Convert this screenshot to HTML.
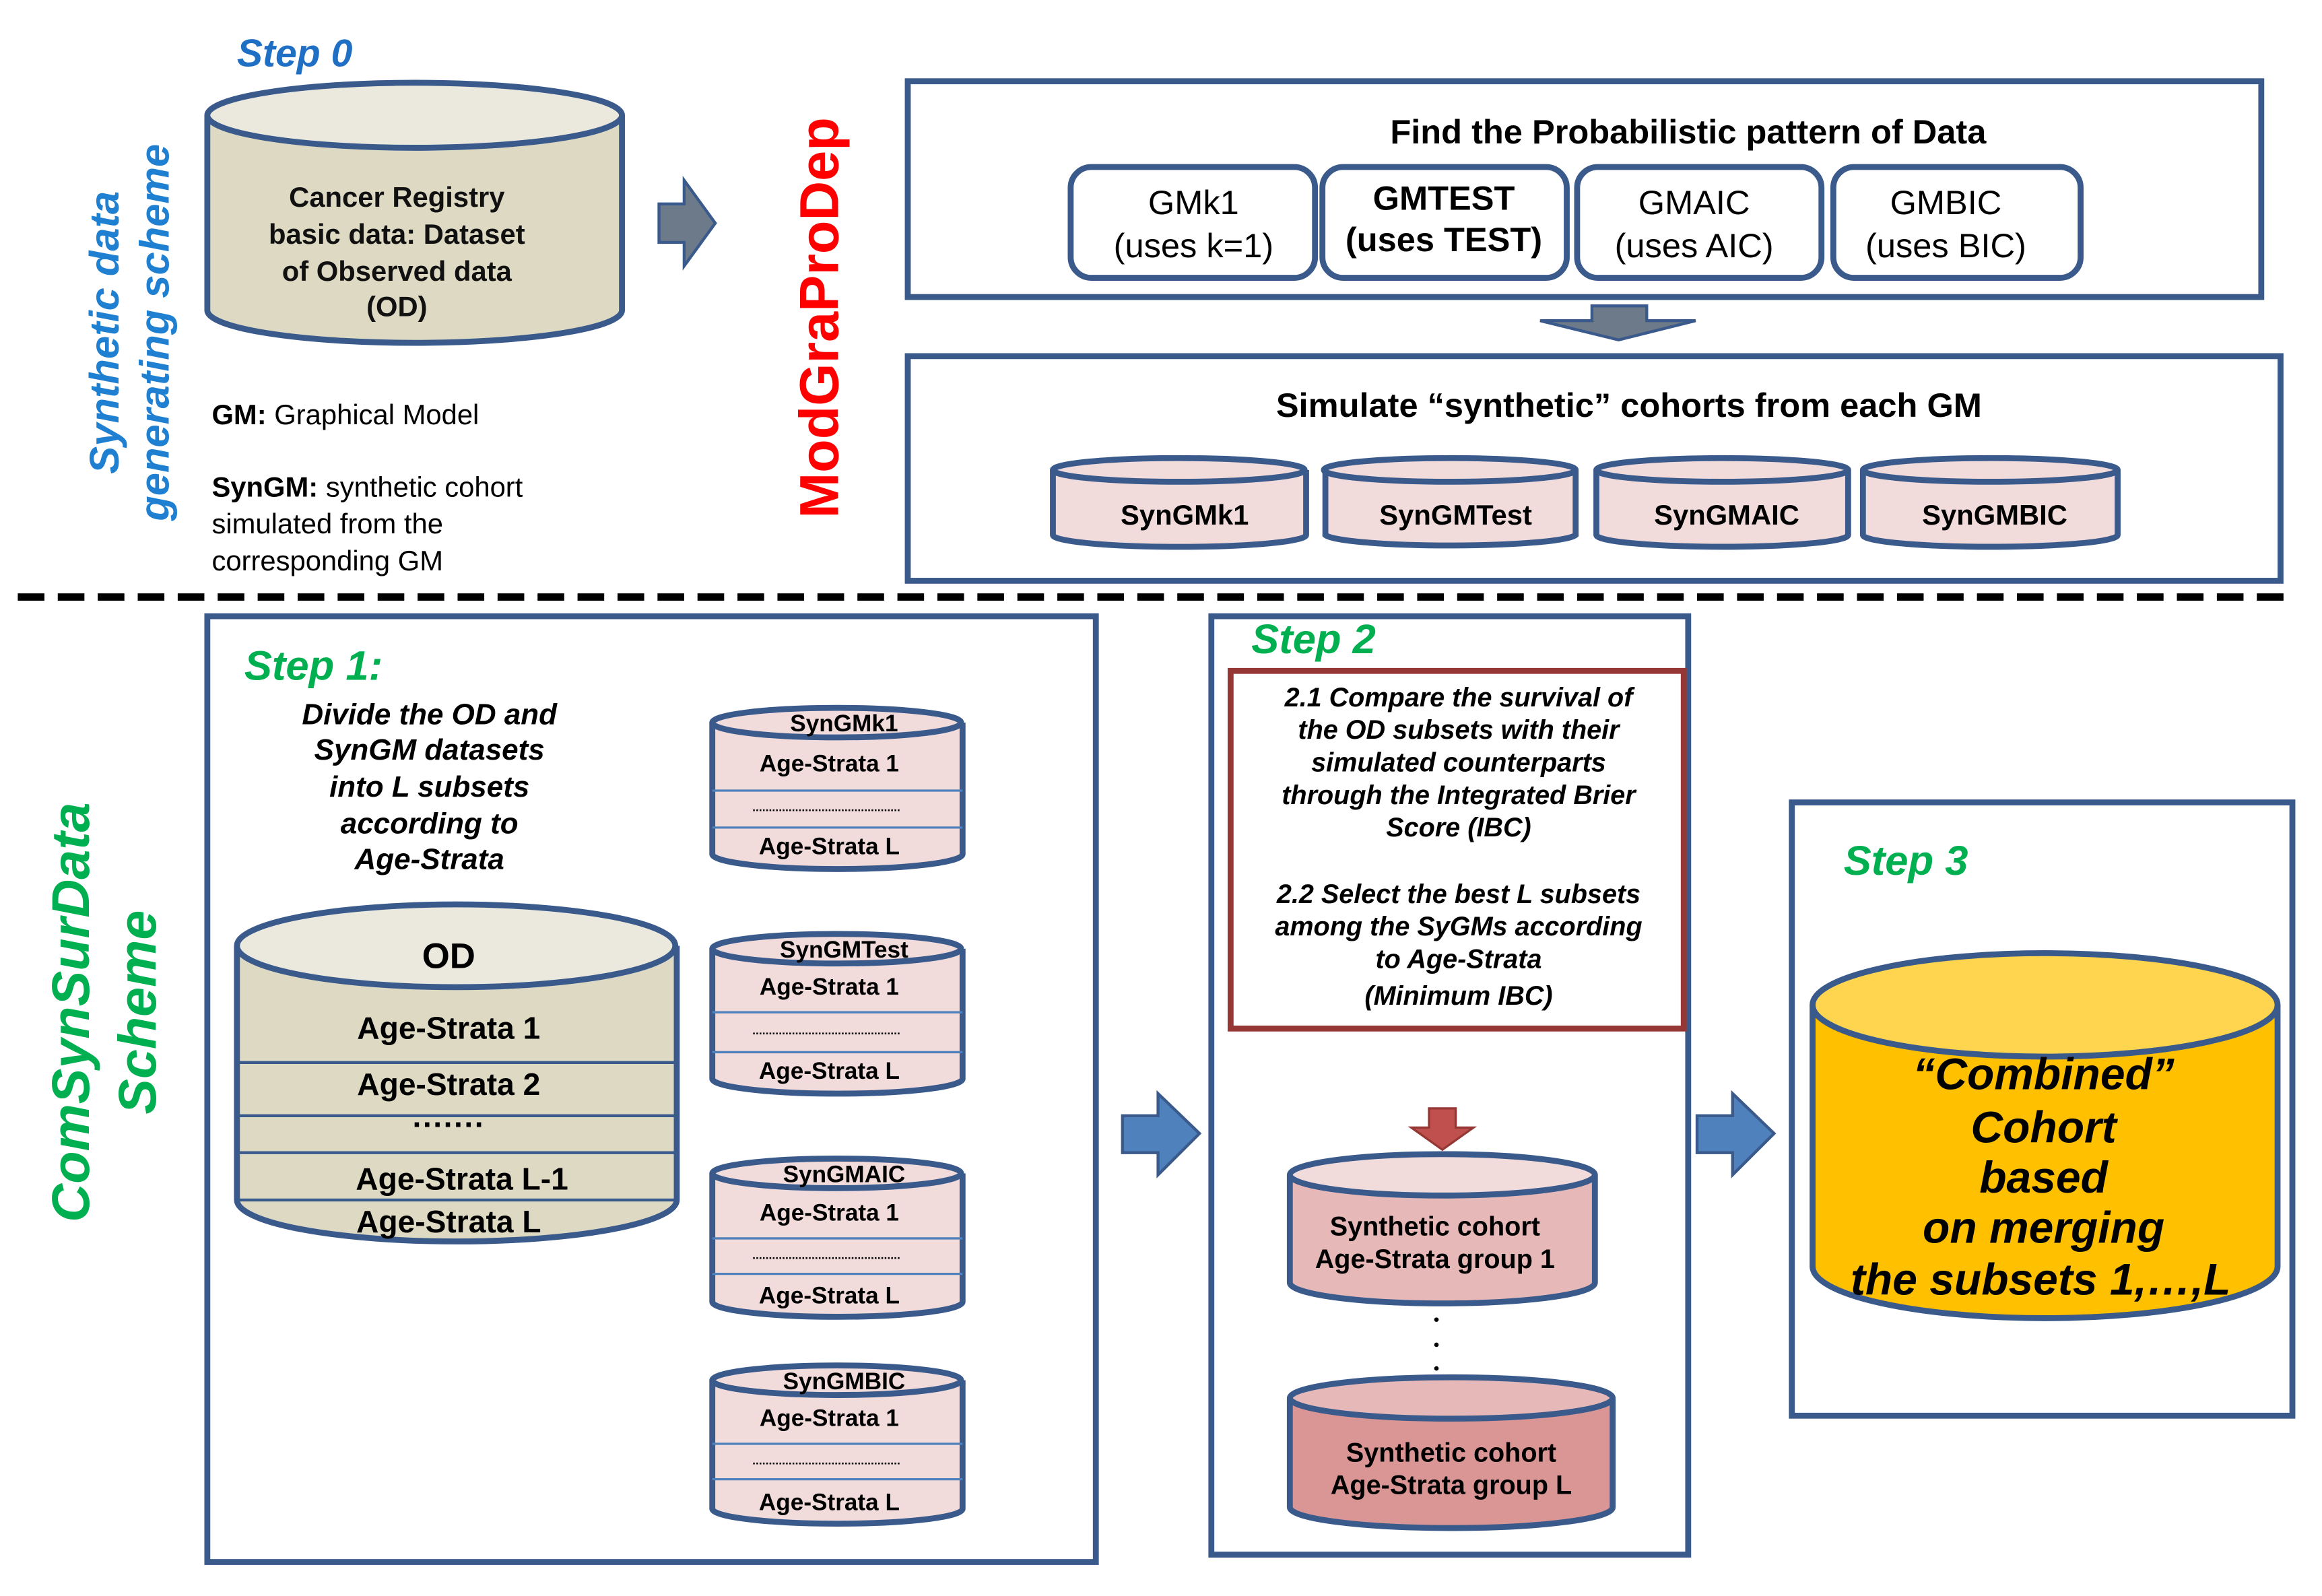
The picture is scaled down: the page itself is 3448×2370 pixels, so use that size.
<!DOCTYPE html>
<html><head><meta charset="utf-8"><style>html,body{margin:0;padding:0;background:#fff}svg{display:block}</style></head><body>
<svg width="3448" height="2370" viewBox="0 0 1568 1080" preserveAspectRatio="none" xmlns="http://www.w3.org/2000/svg" font-family="Liberation Sans, sans-serif">
<defs>
<style>
.bx{fill:#fff;stroke:#3b5a8c;stroke-width:4}
.cy{stroke:#3b5a8c;stroke-width:4}
.t{font-weight:bold;fill:#111}
</style>
</defs>
<text x="160" y="45" font-size="26" font-weight="bold" font-style="italic" fill="#1f6fc5">Step 0</text>
<path class="cy" fill="#ddd9c3" d="M140,78 L140,210 A140,22 0 0 0 420,210 L420,78"/>
<ellipse class="cy" cx="280" cy="78" rx="140" ry="22" fill="#ebe9dd"/>
<g class="t" font-size="19" text-anchor="middle">
<text x="268" y="140">Cancer Registry</text>
<text x="268" y="165">basic data: Dataset</text>
<text x="268" y="190">of Observed data</text>
<text x="268" y="214">(OD)</text>
</g>
<polygon points="445,138 462,138 462,122 483,151 462,180 462,164 445,164" fill="#6d7a8a" stroke="#3b5a8c" stroke-width="2"/>
<text transform="translate(80,225) rotate(-90)" font-size="28" font-weight="bold" font-style="italic" fill="#1f7fd0" text-anchor="middle">Synthetic data</text>
<text transform="translate(114,225) rotate(-90)" font-size="28" font-weight="bold" font-style="italic" fill="#1f7fd0" text-anchor="middle">generating scheme</text>
<text transform="translate(566,215) rotate(-90)" font-size="37" font-weight="bold" fill="#ff0000" text-anchor="middle">ModGraProDep</text>
<text x="143" y="287" font-size="19"><tspan font-weight="bold">GM:</tspan> Graphical Model</text>
<text x="143" y="336" font-size="19"><tspan font-weight="bold">SynGM:</tspan> synthetic cohort</text>
<text x="143" y="361" font-size="19">simulated from the</text>
<text x="143" y="386" font-size="19">corresponding GM</text>
<rect class="bx" x="613" y="55" width="914" height="146"/>
<text x="1140" y="97" font-size="23" font-weight="bold" text-anchor="middle">Find the Probabilistic pattern of Data</text>
<g font-size="23" text-anchor="middle">
<rect class="bx" x="723" y="113" width="165" height="75" rx="14"/>
<text x="806" y="145">GMk1</text><text x="806" y="174">(uses k=1)</text>
<rect class="bx" x="893" y="113" width="165" height="75" rx="14"/>
<text x="975" y="142" font-weight="bold">GMTEST</text><text x="975" y="170" font-weight="bold">(uses TEST)</text>
<rect class="bx" x="1065" y="113" width="165" height="75" rx="14"/>
<text x="1144" y="145">GMAIC</text><text x="1144" y="174">(uses AIC)</text>
<rect class="bx" x="1238" y="113" width="167" height="75" rx="14"/>
<text x="1314" y="145">GMBIC</text><text x="1314" y="174">(uses BIC)</text>
</g>
<polygon points="1075,207 1112,207 1112,217 1145,217 1093,230 1040,217 1075,217" fill="#6d7a8a" stroke="#3b5a8c" stroke-width="2"/>
<rect class="bx" x="613" y="241" width="927" height="152"/>
<text x="1100" y="282" font-size="23" font-weight="bold" text-anchor="middle">Simulate “synthetic” cohorts from each GM</text>
<g font-size="19" font-weight="bold" text-anchor="middle">
<g><path class="cy" fill="#f2dcdb" d="M711,318 L711,362 A85,8 0 0 0 882,362 L882,318"/><ellipse class="cy" cx="796" cy="318" rx="85" ry="8" fill="#f2dcdb"/><text x="800" y="355">SynGMk1</text></g>
<g><path class="cy" fill="#f2dcdb" d="M895,318 L895,362 A85,8 0 0 0 1064,362 L1064,318"/><ellipse class="cy" cx="979" cy="318" rx="85" ry="8" fill="#f2dcdb"/><text x="983" y="355">SynGMTest</text></g>
<g><path class="cy" fill="#f2dcdb" d="M1078,318 L1078,362 A85,8 0 0 0 1248,362 L1248,318"/><ellipse class="cy" cx="1163" cy="318" rx="85" ry="8" fill="#f2dcdb"/><text x="1166" y="355">SynGMAIC</text></g>
<g><path class="cy" fill="#f2dcdb" d="M1258,318 L1258,362 A86,8 0 0 0 1430,362 L1430,318"/><ellipse class="cy" cx="1344" cy="318" rx="86" ry="8" fill="#f2dcdb"/><text x="1347" y="355">SynGMBIC</text></g>
</g>
<line x1="12" y1="404" x2="1550" y2="404" stroke="#000" stroke-width="5" stroke-dasharray="18 9"/>
<text transform="translate(60,685) rotate(-90)" font-size="36" font-weight="bold" font-style="italic" fill="#00b050" text-anchor="middle">ComSynSurData</text>
<text transform="translate(105,685) rotate(-90)" font-size="36" font-weight="bold" font-style="italic" fill="#00b050" text-anchor="middle">Scheme</text>
<rect class="bx" x="140" y="417" width="600" height="640"/>
<text x="165" y="460" font-size="28" font-weight="bold" font-style="italic" fill="#00b050">Step 1:</text>
<g font-size="20" font-weight="bold" font-style="italic" text-anchor="middle">
<text x="290" y="490">Divide the OD and</text><text x="290" y="514">SynGM datasets</text><text x="290" y="539">into L subsets</text><text x="290" y="564">according to</text><text x="290" y="588">Age-Strata</text>
</g>
<path class="cy" fill="#ddd9c3" d="M160,640 L160,812 A148,28 0 0 0 457,812 L457,640"/>
<ellipse class="cy" cx="308" cy="640" rx="148" ry="28" fill="#ebe9dd"/>
<g stroke="#3b5a8c" stroke-width="2"><line x1="160" y1="719" x2="457" y2="719"/><line x1="160" y1="755" x2="457" y2="755"/><line x1="160" y1="780" x2="457" y2="780"/><line x1="160" y1="812" x2="457" y2="812"/></g>
<g font-size="21" font-weight="bold" text-anchor="middle">
<text x="303" y="655" font-size="24">OD</text>
<text x="303" y="703">Age-Strata 1</text><text x="303" y="741">Age-Strata 2</text><text x="303" y="768">·······</text>
<text x="312" y="805">Age-Strata L-1</text><text x="303" y="834">Age-Strata L</text>
</g>
<g font-size="16" font-weight="bold" text-anchor="middle">
<g>
<path class="cy" fill="#f2dcdb" d="M481,489 L481,578 A84,10 0 0 0 650,578 L650,489"/><ellipse class="cy" cx="565" cy="489" rx="84" ry="10" fill="#f2dcdb"/>
<g stroke="#4f81bd" stroke-width="1.5"><line x1="481" y1="535" x2="650" y2="535"/><line x1="481" y1="560" x2="650" y2="560"/></g>
<text x="570" y="495">SynGMk1</text><text x="560" y="522">Age-Strata 1</text><text x="558" y="549" font-size="8">.............................................</text><text x="560" y="578">Age-Strata L</text>
</g>
<g>
<path class="cy" fill="#f2dcdb" d="M481,642 L481,730 A84,10 0 0 0 650,730 L650,642"/><ellipse class="cy" cx="565" cy="642" rx="84" ry="10" fill="#f2dcdb"/>
<g stroke="#4f81bd" stroke-width="1.5"><line x1="481" y1="685" x2="650" y2="685"/><line x1="481" y1="712" x2="650" y2="712"/></g>
<text x="570" y="648">SynGMTest</text><text x="560" y="673">Age-Strata 1</text><text x="558" y="700" font-size="8">.............................................</text><text x="560" y="730">Age-Strata L</text>
</g>
<g>
<path class="cy" fill="#f2dcdb" d="M481,794 L481,881 A84,10 0 0 0 650,881 L650,794"/><ellipse class="cy" cx="565" cy="794" rx="84" ry="10" fill="#f2dcdb"/>
<g stroke="#4f81bd" stroke-width="1.5"><line x1="481" y1="838" x2="650" y2="838"/><line x1="481" y1="862" x2="650" y2="862"/></g>
<text x="570" y="800">SynGMAIC</text><text x="560" y="826">Age-Strata 1</text><text x="558" y="852" font-size="8">.............................................</text><text x="560" y="882">Age-Strata L</text>
</g>
<g>
<path class="cy" fill="#f2dcdb" d="M481,934 L481,1021 A84,10 0 0 0 650,1021 L650,934"/><ellipse class="cy" cx="565" cy="934" rx="84" ry="10" fill="#f2dcdb"/>
<g stroke="#4f81bd" stroke-width="1.5"><line x1="481" y1="977" x2="650" y2="977"/><line x1="481" y1="1001" x2="650" y2="1001"/></g>
<text x="570" y="940">SynGMBIC</text><text x="560" y="965">Age-Strata 1</text><text x="558" y="991" font-size="8">.............................................</text><text x="560" y="1022">Age-Strata L</text>
</g>
</g>
<polygon points="758,755 782,755 782,740 810,767 782,795 782,780 758,780" fill="#4f81bd" stroke="#3b5a8c" stroke-width="2"/>
<polygon points="1146,755 1170,755 1170,740 1198,767 1170,795 1170,780 1146,780" fill="#4f81bd" stroke="#3b5a8c" stroke-width="2"/>
<rect class="bx" x="818" y="417" width="322" height="635"/>
<text x="845" y="442" font-size="28" font-weight="bold" font-style="italic" fill="#00b050">Step 2</text>
<rect x="831" y="454" width="306" height="242" fill="#fff" stroke="#953735" stroke-width="4"/>
<g font-size="18" font-weight="bold" font-style="italic" text-anchor="middle">
<text x="985" y="478">2.1 Compare the survival of</text><text x="985" y="500">the OD subsets with their</text><text x="985" y="522">simulated counterparts</text><text x="985" y="544">through the Integrated Brier</text><text x="985" y="566">Score (IBC)</text>
<text x="985" y="611">2.2 Select the best L subsets</text><text x="985" y="633">among the SyGMs according</text><text x="985" y="655">to Age-Strata</text><text x="985" y="680">(Minimum IBC)</text>
</g>
<polygon points="965,750 983,750 983,763 995,763 974,778 953,763 965,763" fill="#c0504d" stroke="#953735" stroke-width="1.5"/>
<path class="cy" fill="#e6b9b8" d="M871,795 L871,868 A103,14 0 0 0 1077,868 L1077,795"/>
<ellipse class="cy" cx="974" cy="795" rx="103" ry="14" fill="#f2dcdb"/>
<g font-size="18" font-weight="bold" text-anchor="middle"><text x="969" y="836">Synthetic cohort</text><text x="969" y="858">Age-Strata group 1</text></g>
<g fill="#000"><circle cx="970" cy="893" r="1.5"/><circle cx="970" cy="910" r="1.5"/><circle cx="970" cy="926" r="1.5"/></g>
<path class="cy" fill="#d99694" d="M871,946 L871,1020 A109,14 0 0 0 1089,1020 L1089,946"/>
<ellipse class="cy" cx="980" cy="946" rx="109" ry="14" fill="#e6b9b8"/>
<g font-size="18" font-weight="bold" text-anchor="middle"><text x="980" y="989">Synthetic cohort</text><text x="980" y="1011">Age-Strata group L</text></g>
<rect class="bx" x="1210" y="543" width="338" height="415"/>
<text x="1245" y="592" font-size="28" font-weight="bold" font-style="italic" fill="#00b050">Step 3</text>
<path class="cy" fill="#ffc000" d="M1224,680 L1224,857 A157,35 0 0 0 1538,857 L1538,680"/>
<ellipse class="cy" cx="1381" cy="680" rx="157" ry="35" fill="#ffd54f"/>
<g font-size="30" font-weight="bold" font-style="italic" text-anchor="middle">
<text x="1380" y="737">“Combined”</text><text x="1380" y="773">Cohort</text><text x="1380" y="807">based</text><text x="1380" y="841">on merging</text><text x="1378" y="876">the subsets 1,…,L</text>
</g>
</svg>
</body></html>
